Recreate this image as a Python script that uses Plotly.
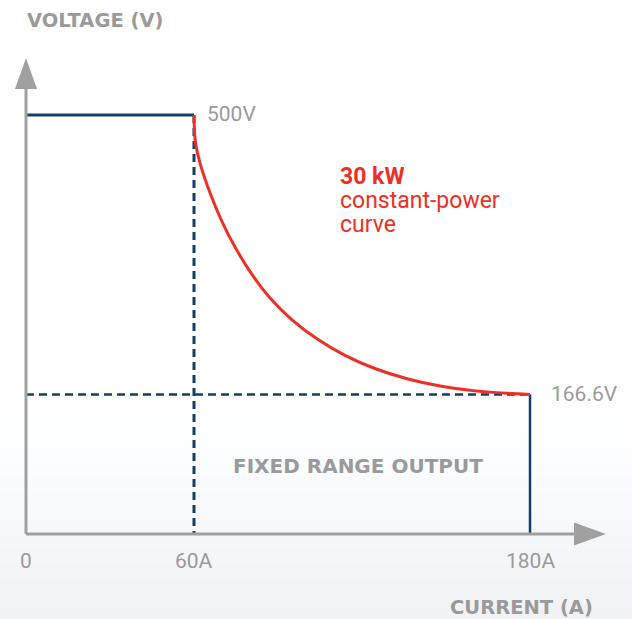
import plotly.graph_objects as go

# ---- data ----
curve_current = [60, 60.4, 62.1, 65.7, 70.0, 75.0, 80.7, 87.1, 95.0, 104.3, 113.9,
                 124.6, 136.1, 147.9, 159.6, 171.8, 180]
curve_voltage = [500, 470.6, 443.2, 407.3, 372.9, 340.3, 309.8, 281.9, 255.6, 232.0, 213.2,
                 197.5, 185.3, 176.6, 171.1, 167.9, 166.6]

max_voltage = 500
min_voltage = 166.6
knee_current = 60
max_current = 180

tick_values = [0, 60, 180]
tick_labels = ["0", "60A", "180A"]

NAVY = "#123f66"
RED = "#ee2f26"
GRAY = "#a0a0a0"
TXT = "#9a9a9a"

W, H = 632, 619
L, R, T, B = 26, 26, 58, 85
PW, PH = W - L - R, H - T - B
X_MAX = PW / 2.8
Y_MAX = PH / 0.838

fig = go.Figure()

# background gradient near the bottom
n_bands = 14
top_px = 420
for i in range(n_bands):
    p0 = top_px + (H - top_px) * i / n_bands
    p1 = top_px + (H - top_px) * (i + 1) / n_bands
    f = (i + 1) / n_bands
    c = int(round(255 - f * 14))
    fig.add_shape(type="rect", xref="paper", yref="paper",
                  x0=-L / PW, x1=1 + R / PW,
                  y0=(H - B - p1) / PH, y1=(H - B - p0) / PH,
                  fillcolor=f"rgb({c},{c+1},{c+3})", line_width=0, layer="below")

# fixed range box lines
fig.add_trace(go.Scatter(x=[0, knee_current], y=[max_voltage, max_voltage], mode="lines",
                         line=dict(color=NAVY, width=3), hoverinfo="skip", showlegend=False))
fig.add_trace(go.Scatter(x=[knee_current, knee_current], y=[max_voltage, 0], mode="lines",
                         line=dict(color=NAVY, width=3, dash="8px,5px"), hoverinfo="skip", showlegend=False))
fig.add_trace(go.Scatter(x=[0, max_current], y=[min_voltage, min_voltage], mode="lines",
                         line=dict(color=NAVY, width=2.5, dash="8px,5px"), hoverinfo="skip", showlegend=False))
fig.add_trace(go.Scatter(x=[max_current, max_current], y=[min_voltage, 0], mode="lines",
                         line=dict(color=NAVY, width=2.5), hoverinfo="skip", showlegend=False))

# constant power curve
fig.add_trace(go.Scatter(x=curve_current, y=curve_voltage, mode="lines",
                         line=dict(color=RED, width=3, shape="spline", smoothing=0.8),
                         hoverinfo="skip", showlegend=False))

# axes with arrows
ah_len_y = 31 / PH
ah_w_x = 11 / PW
fig.add_shape(type="line", xref="paper", yref="paper", x0=0, x1=0, y0=0, y1=1 - ah_len_y,
              line=dict(color=GRAY, width=3))
fig.add_shape(type="path", xref="paper", yref="paper",
              path=f"M {-ah_w_x} {1-ah_len_y} L {ah_w_x} {1-ah_len_y} L 0 1 Z",
              fillcolor=GRAY, line_width=0)
ah_len_x = 32 / PW
ah_w_y = 11.5 / PH
fig.add_shape(type="line", xref="paper", yref="paper", x0=0, x1=1 - ah_len_x, y0=0, y1=0,
              line=dict(color=GRAY, width=3))
fig.add_shape(type="path", xref="paper", yref="paper",
              path=f"M {1-ah_len_x} {-ah_w_y} L {1-ah_len_x} {ah_w_y} L 1 0 Z",
              fillcolor=GRAY, line_width=0)

ann = []
FONT = "Roboto"
BOLD = "DejaVu Sans"
for v, t in zip(tick_values, tick_labels):
    ann.append(dict(x=v, y=0, xref="x", yref="y", text=t, showarrow=False,
                    yshift=-27, font=dict(family=FONT, size=21, color=TXT)))
ann.append(dict(x=knee_current, y=max_voltage, xref="x", yref="y", text=f"{max_voltage}V",
                showarrow=False, xanchor="left", xshift=11, yshift=1,
                font=dict(family=FONT, size=21, color=TXT)))
ann.append(dict(x=max_current, y=min_voltage, xref="x", yref="y", text=f"{min_voltage}V",
                showarrow=False, xanchor="left", xshift=19, yshift=0,
                font=dict(family=FONT, size=21, color=TXT)))
ann.append(dict(x=-1 / PW, y=(H - B - 20) / PH, xref="paper", yref="paper",
                text="<b>VOLTAGE (V)</b>", showarrow=False, xanchor="left", yanchor="middle",
                font=dict(family=BOLD, size=19.5, color=TXT)))
ann.append(dict(x=(595 - L) / PW, y=(H - B - 607) / PH, xref="paper", yref="paper",
                text="<b>CURRENT (A)</b>", showarrow=False, xanchor="right", yanchor="middle",
                font=dict(family=BOLD, size=19.5, color=TXT)))
ann.append(dict(x=(358 - L) / PW, y=(H - B - 466) / PH, xref="paper", yref="paper",
                text="<b>FIXED RANGE OUTPUT</b>", showarrow=False, xanchor="center", yanchor="middle",
                font=dict(family=BOLD, size=20, color=TXT)))
for txt, py in [("<b>30 kW</b>", 176), ("constant-power", 200), ("curve", 224)]:
    ann.append(dict(x=(338 - L) / PW, y=(H - B - py) / PH, xref="paper", yref="paper",
                    text=txt, showarrow=False, xanchor="left", yanchor="middle", align="left",
                    valign="middle", height=24,
                    font=dict(family=FONT, size=23, color=RED)))

fig.update_layout(
    width=W, height=H,
    margin=dict(l=L, r=R, t=T, b=B, pad=0),
    paper_bgcolor="white", plot_bgcolor="rgba(0,0,0,0)",
    xaxis=dict(range=[0, X_MAX], visible=False, fixedrange=True),
    yaxis=dict(range=[0, Y_MAX], visible=False, fixedrange=True),
    annotations=ann,
    showlegend=False,
)

fig.write_html("out.html", config={"displayModeBar": False},
               post_script="document.body.style.margin='0';")
